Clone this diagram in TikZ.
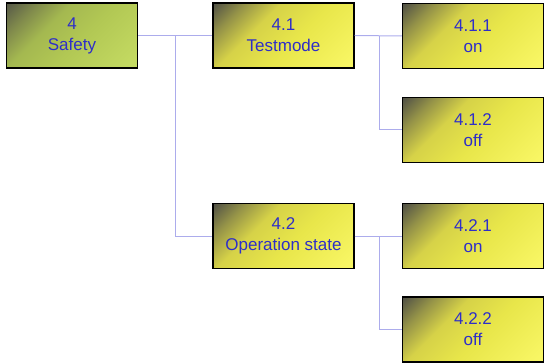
\documentclass[tikz,border=0pt]{standalone}
\usepackage{fontspec}
\setmainfont{Liberation Sans}
\definecolor{linkcol}{RGB}{172,172,236}
\definecolor{labelcol}{RGB}{46,46,200}
% yellow boxes: dark corner fading to yellow
\pgfdeclareverticalshading{yelshade}{100bp}{%
  color(0bp)=(rgb,255:red,250;green,248;blue,110);
  color(18bp)=(rgb,255:red,248;green,246;blue,100);
  color(45bp)=(rgb,255:red,232;green,230;blue,74);
  color(62bp)=(rgb,255:red,214;green,210;blue,72);
  color(74bp)=(rgb,255:red,150;green,148;blue,72);
  color(85bp)=(rgb,255:red,82;green,82;blue,70);
  color(100bp)=(rgb,255:red,82;green,82;blue,70)}
% green root box
\pgfdeclareverticalshading{grnshade}{100bp}{%
  color(0bp)=(rgb,255:red,200;green,222;blue,104);
  color(18bp)=(rgb,255:red,196;green,218;blue,98);
  color(45bp)=(rgb,255:red,178;green,200;blue,84);
  color(62bp)=(rgb,255:red,164;green,184;blue,80);
  color(74bp)=(rgb,255:red,128;green,138;blue,76);
  color(85bp)=(rgb,255:red,88;green,90;blue,72);
  color(100bp)=(rgb,255:red,88;green,90;blue,72)}
\tikzset{
  x=1pt, y=-1pt,
  item/.style={draw=black, line width=1.4pt, shading=yelshade, shading angle=45,
    minimum width=141pt, minimum height=65pt, inner sep=0pt, align=center,
    text=labelcol, font=\fontsize{17}{21}\selectfont},
  rootitem/.style={item, shading=grnshade, minimum width=131pt},
  link/.style={draw=linkcol, line width=1pt}
}
\begin{document}
\begin{tikzpicture}
\useasboundingbox (0,0) rectangle (545,363);
% boxes
\node[rootitem] (n4)   at (72,35.5)   {4\\Safety};
\node[item]     (n41)  at (283.5,35.5) {4.1\\Testmode};
\node[item]     (n411) at (473,36)    {4.1.1\\on};
\node[item]     (n412) at (473,130)   {4.1.2\\off};
\node[item]     (n42)  at (283.5,236) {4.2\\Operation state};
\node[item]     (n421) at (473,236)   {4.2.1\\on};
\node[item]     (n422) at (473,329.5) {4.2.2\\off};
% branch points
\coordinate (j1) at (175,35.5);
\coordinate (j2) at (379,36);
\coordinate (j3) at (379,236);
% connectors
\path[link] (n4.east) -- (n41.west);
\path[link] (j1) |- (n42.west);
\path[link] (n41.east) -- (n411.west);
\path[link] (j2) |- (n412.west);
\path[link] (n42.east) -- (n421.west);
\path[link] (j3) |- (n422.west);
\end{tikzpicture}
\end{document}
